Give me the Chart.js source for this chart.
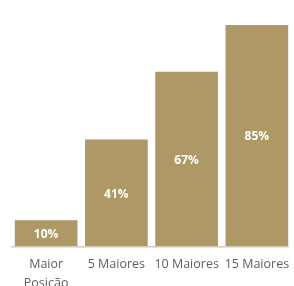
<!DOCTYPE html>
<html>
<head>
<meta charset="utf-8">
<script src="https://cdn.jsdelivr.net/npm/chart.js@4/dist/chart.umd.min.js"></script>
<style>
html,body{margin:0;padding:0;background:#fff}
#wrap{width:294px;height:286px}
</style>
</head>
<body>
<div id="wrap"><canvas id="c"></canvas></div>
<script>
const categories=[["Maior","Posição"],"5 Maiores","10 Maiores","15 Maiores"]
const values=[10,41,67,85]
const valueLabels=["10%","41%","67%","85%"]

const barColor="#ad9866"

// white % text in the middle of each bar + light baseline
const barText={
id:"barText",
afterDatasetsDraw(chart){
const ctx=chart.ctx
const bars=chart.getDatasetMeta(0).data
ctx.save()
ctx.strokeStyle="#d6cab0"
ctx.lineWidth=1.5
ctx.beginPath()
ctx.moveTo(bars[0].x-bars[0].width/2-4,chart.chartArea.bottom)
ctx.lineTo(bars[bars.length-1].x+bars[bars.length-1].width/2+1,chart.chartArea.bottom)
ctx.stroke()
ctx.fillStyle="#fff"
ctx.font="bold 12px 'Open Sans'"
ctx.textAlign="center"
ctx.textBaseline="middle"
bars.forEach((b,i)=>{
ctx.fillText(valueLabels[i],b.x,(b.y+b.base)/2+1)
})
ctx.restore()
}
}

new Chart(document.getElementById("c"),{
type:"bar",
data:{
labels:categories,
datasets:[{data:values,backgroundColor:barColor,barThickness:62}]
},
plugins:[barText],
options:{
responsive:true,
maintainAspectRatio:false,
animation:false,
layout:{padding:{top:25,left:11,right:2,bottom:-7}},
plugins:{legend:{display:false},tooltip:{enabled:false}},
scales:{
x:{
grid:{display:false},
border:{display:false},
ticks:{color:"#5e5e5e",font:{family:"Open Sans",size:12.5,lineHeight:1.45},padding:1,maxRotation:0,autoSkip:false}
},
y:{display:false,min:0,max:85}
}
}
})
</script>
</body>
</html>
